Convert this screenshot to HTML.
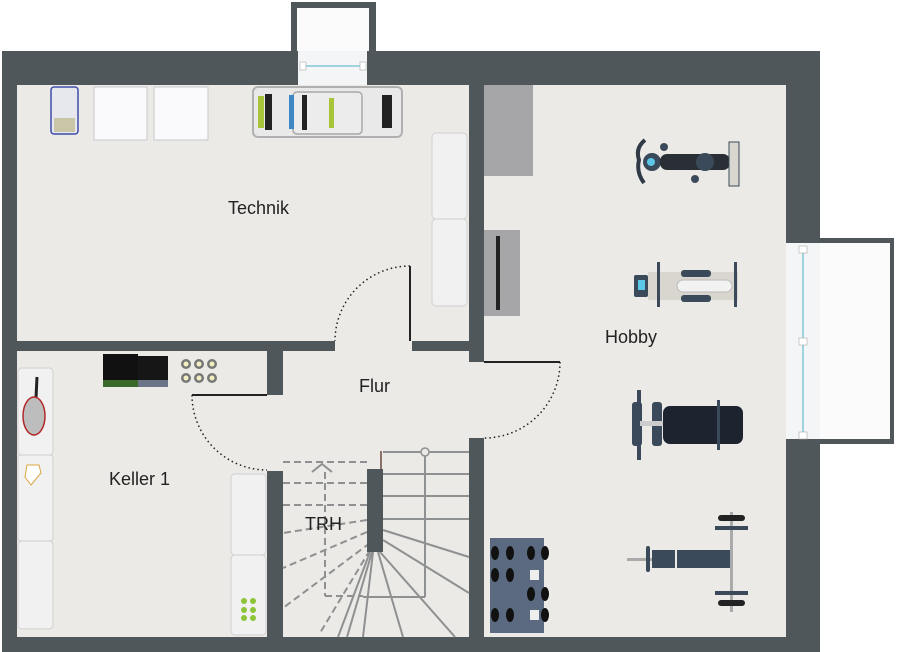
<!DOCTYPE html>
<html><head><meta charset="utf-8"><style>
html,body{margin:0;padding:0;background:#fff;}
svg{display:block;}
text{font-family:"Liberation Sans",sans-serif;fill:#222;}
</style></head><body>
<svg width="900" height="652" viewBox="0 0 900 652" xmlns="http://www.w3.org/2000/svg">
<!-- top bump -->
<rect x="291" y="2" width="85" height="52" fill="#50575a"/>
<rect x="297" y="8" width="72" height="46" fill="#fbfbfb"/>
<!-- right bump -->
<rect x="780" y="238" width="114" height="206" fill="#50575a"/>
<rect x="786" y="243" width="104" height="196" fill="#fbfbfb"/>
<!-- walls -->
<rect x="2" y="51" width="818" height="601" fill="#50575a"/>
<!-- floors -->
<g fill="#ebeae6">
<rect x="17" y="85" width="452" height="256"/>
<rect x="484" y="85" width="302" height="552"/>
<rect x="17" y="351" width="250" height="286"/>
<rect x="283" y="351" width="186" height="286"/>
<rect x="335" y="341" width="77" height="10"/>
<rect x="267" y="395" width="16" height="76"/>
<rect x="469" y="362" width="15" height="76"/>
</g>
<!-- top window -->
<rect x="298" y="51" width="69" height="34" fill="#f4f5f6"/>
<line x1="303" y1="66" x2="362" y2="66" stroke="#9fd3de" stroke-width="2"/>
<rect x="300" y="62" width="6" height="8" fill="#fff" stroke="#aaa" stroke-width="0.6"/>
<rect x="360" y="62" width="6" height="8" fill="#fff" stroke="#aaa" stroke-width="0.6"/>
<!-- right window -->
<rect x="786" y="243" width="34" height="196" fill="#f4f5f6"/>
<line x1="803" y1="248" x2="803" y2="434" stroke="#9fd3de" stroke-width="2"/>
<rect x="799" y="246" width="8" height="7" fill="#fff" stroke="#aaa" stroke-width="0.6"/>
<rect x="799" y="338" width="8" height="7" fill="#fff" stroke="#aaa" stroke-width="0.6"/>
<rect x="799" y="432" width="8" height="7" fill="#fff" stroke="#aaa" stroke-width="0.6"/>

<!-- doors -->
<g fill="none" stroke="#222">
<line x1="410" y1="266" x2="410" y2="341" stroke-width="2"/>
<path d="M410 266 A75 75 0 0 0 335 341" stroke-dasharray="1.5 3" stroke-width="1.5"/>
<line x1="192" y1="395" x2="267" y2="395" stroke-width="2"/>
<path d="M192 395 A75 75 0 0 0 267 470" stroke-dasharray="1.5 3" stroke-width="1.5"/>
<line x1="484" y1="362" x2="560" y2="362" stroke-width="2"/>
<path d="M560 362 A76 76 0 0 1 484 438" stroke-dasharray="1.5 3" stroke-width="1.5"/>
</g>

<!-- stairs -->
<g stroke="#8f9091" stroke-width="2" fill="none">
<line x1="383" y1="452" x2="469" y2="452"/>
<line x1="383" y1="474" x2="469" y2="474"/>
<line x1="383" y1="496" x2="469" y2="496"/>
<line x1="383" y1="519" x2="469" y2="519"/>
<line x1="425" y1="456" x2="425" y2="597"/>
<line x1="363" y1="597" x2="425" y2="597"/>
<line x1="383" y1="530" x2="469" y2="557"/>
<line x1="383" y1="540" x2="469" y2="593"/>
<line x1="380" y1="552" x2="455" y2="637"/>
<line x1="378" y1="552" x2="403" y2="637"/>
<line x1="373" y1="552" x2="363" y2="637"/>
<line x1="372" y1="552" x2="347" y2="637"/>
<line x1="370" y1="552" x2="338" y2="637"/>
</g>
<circle cx="425" cy="452" r="4" fill="#ebeae6" stroke="#8f9091" stroke-width="1.5"/>
<g stroke="#8f9091" stroke-width="2" fill="none" stroke-dasharray="7 4">
<line x1="283" y1="462" x2="369" y2="462"/>
<line x1="283" y1="483" x2="368" y2="483"/>
<line x1="283" y1="505" x2="368" y2="505"/>
<line x1="325" y1="472" x2="325" y2="596"/>
<line x1="325" y1="596" x2="363" y2="596"/>
<line x1="367" y1="520" x2="283" y2="533"/>
<line x1="367" y1="532" x2="283" y2="568"/>
<line x1="370" y1="543" x2="283" y2="608"/>
<line x1="370" y1="550" x2="320" y2="633"/>
</g>
<path d="M312 472 L322 464 L332 472" stroke="#8f9091" stroke-width="2" fill="none"/>
<rect x="367" y="469" width="16" height="83" fill="#50575a"/>
<line x1="381" y1="451" x2="381" y2="469" stroke="#6b4a3f" stroke-width="1.5"/>

<!-- Technik furniture -->
<rect x="51" y="87" width="27" height="47" rx="3" fill="#e6e8ee" stroke="#3f4ca8" stroke-width="1.5"/>
<rect x="54" y="118" width="21" height="14" fill="#c9c6a8"/>
<rect x="94" y="87" width="53" height="53" fill="#fafafc" stroke="#c8c8cc"/>
<rect x="154" y="87" width="54" height="53" fill="#fafafc" stroke="#c8c8cc"/>
<rect x="253" y="87" width="149" height="50" rx="5" fill="#e9e9e9" stroke="#b0b0b0" stroke-width="2"/>
<rect x="293" y="92" width="69" height="42" rx="4" fill="#ececec" stroke="#a8a8a8" stroke-width="1.5"/>
<g fill="#222"><rect x="265" y="94" width="7" height="36"/><rect x="302" y="95" width="5" height="35"/><rect x="382" y="95" width="10" height="33"/></g>
<g fill="#a8c43a"><rect x="258" y="96" width="6" height="32"/><rect x="329" y="98" width="5" height="30"/></g>
<rect x="289" y="95" width="5" height="34" fill="#3d87c4"/>
<rect x="432" y="133" width="35" height="86" rx="4" fill="#f1f1f1" stroke="#d0d0d0"/>
<rect x="432" y="219" width="35" height="87" rx="4" fill="#f1f1f1" stroke="#d0d0d0"/>

<!-- Keller furniture -->
<rect x="18" y="368" width="35" height="87" rx="4" fill="#f1f1f1" stroke="#d0d0d0"/>
<rect x="18" y="455" width="35" height="86" rx="3" fill="#f1f1f1" stroke="#d0d0d0"/>
<rect x="18" y="541" width="35" height="88" rx="4" fill="#f1f1f1" stroke="#d0d0d0"/>
<line x1="37" y1="377" x2="36" y2="398" stroke="#222" stroke-width="3"/>
<ellipse cx="34" cy="416" rx="11" ry="19" fill="#bdbdbd" stroke="#b02a2a" stroke-width="1.5"/>
<path d="M27 465 l12 0 l2 8 l-10 12 l-6 -8z" fill="#fff" stroke="#d9a640"/>
<rect x="231" y="474" width="35" height="81" rx="4" fill="#f1f1f1" stroke="#d0d0d0"/>
<rect x="231" y="555" width="35" height="80" rx="4" fill="#f1f1f1" stroke="#d0d0d0"/>
<g fill="#8cc43a"><circle cx="244" cy="601" r="3"/><circle cx="253" cy="601" r="3"/><circle cx="244" cy="610" r="3"/><circle cx="253" cy="610" r="3"/><circle cx="244" cy="618" r="3"/><circle cx="253" cy="618" r="3"/></g>
<rect x="103" y="354" width="35" height="33" fill="#111"/>
<rect x="103" y="380" width="35" height="7" fill="#3a6a2a"/>
<rect x="138" y="356" width="30" height="31" fill="#161616"/>
<rect x="138" y="380" width="30" height="7" fill="#6a7388"/>
<g fill="#777"><circle cx="186" cy="364" r="5"/><circle cx="199" cy="364" r="5"/><circle cx="212" cy="364" r="5"/><circle cx="186" cy="378" r="5"/><circle cx="199" cy="378" r="5"/><circle cx="212" cy="378" r="5"/></g>
<g fill="#f2f0c0"><circle cx="186" cy="364" r="2.5"/><circle cx="199" cy="364" r="2.5"/><circle cx="212" cy="364" r="2.5"/><circle cx="186" cy="378" r="2.5"/><circle cx="199" cy="378" r="2.5"/><circle cx="212" cy="378" r="2.5"/></g>

<!-- Hobby furniture -->
<rect x="484" y="85" width="49" height="91" fill="#a6a6a8"/>
<rect x="484" y="230" width="36" height="86" fill="#a6a6a8"/>
<rect x="496" y="236" width="4" height="74" fill="#222"/>
<!-- bike -->
<path d="M645 140 q-10 8 -6 20 q-3 12 5 23" stroke="#2f3a46" stroke-width="4" fill="none"/>
<circle cx="652" cy="162" r="9" fill="#3a4a5a"/>
<circle cx="651" cy="162" r="4" fill="#5cc8e8"/>
<rect x="660" y="154" width="70" height="16" rx="7" fill="#2a2f35"/>
<ellipse cx="705" cy="162" rx="9" ry="9" fill="#3a4a5a"/>
<rect x="729" y="142" width="10" height="44" fill="#d8d6cf" stroke="#3a4a5a"/>
<circle cx="664" cy="147" r="4" fill="#3a4a5a"/><circle cx="695" cy="179" r="4" fill="#3a4a5a"/>
<!-- elliptical -->
<rect x="634" y="275" width="14" height="22" rx="2" fill="#3a4a5a"/>
<rect x="638" y="280" width="7" height="10" fill="#5cc8e8"/>
<rect x="648" y="272" width="90" height="28" fill="#d8d6cf"/>
<rect x="681" y="270" width="30" height="7" rx="3" fill="#3a4a5a"/>
<rect x="681" y="295" width="30" height="7" rx="3" fill="#3a4a5a"/>
<rect x="677" y="280" width="55" height="12" rx="6" fill="#f2f2f2" stroke="#bbb"/>
<rect x="657" y="262" width="3" height="45" fill="#3a4a5a"/><rect x="734" y="262" width="3" height="45" fill="#3a4a5a"/>
<!-- bench -->
<rect x="637" y="390" width="4" height="70" fill="#3a4a5a"/>
<rect x="632" y="402" width="10" height="44" rx="3" fill="#3a4a5a"/>
<rect x="652" y="402" width="10" height="44" rx="3" fill="#3a4a5a"/>
<rect x="640" y="421" width="25" height="5" fill="#ccc"/>
<rect x="663" y="406" width="80" height="38" rx="7" fill="#1d2430"/>
<rect x="717" y="400" width="3" height="50" fill="#3a4a5a"/>
<!-- bench press -->
<rect x="652" y="550" width="23" height="18" fill="#3a4a5a"/>
<rect x="677" y="550" width="55" height="18" fill="#3a4a5a"/>
<rect x="627" y="558" width="25" height="3" fill="#aaa"/>
<rect x="646" y="546" width="4" height="26" rx="2" fill="#3a4a5a"/>
<rect x="730" y="512" width="3" height="100" fill="#aaa"/>
<rect x="718" y="515" width="27" height="6" rx="3" fill="#222"/>
<rect x="715" y="526" width="33" height="4" fill="#3a4a5a"/>
<rect x="715" y="591" width="33" height="4" fill="#3a4a5a"/>
<rect x="718" y="600" width="27" height="6" rx="3" fill="#222"/>
<!-- dumbbell rack -->
<rect x="490" y="538" width="54" height="95" fill="#5b6a80"/>
<g fill="#111">
<ellipse cx="495" cy="553" rx="4" ry="7"/><ellipse cx="510" cy="553" rx="4" ry="7"/><ellipse cx="531" cy="553" rx="4" ry="7"/><ellipse cx="545" cy="553" rx="4" ry="7"/>
<ellipse cx="495" cy="575" rx="4" ry="7"/><ellipse cx="510" cy="575" rx="4" ry="7"/>
<ellipse cx="531" cy="594" rx="4" ry="7"/><ellipse cx="545" cy="594" rx="4" ry="7"/>
<ellipse cx="495" cy="615" rx="4" ry="7"/><ellipse cx="510" cy="615" rx="4" ry="7"/><ellipse cx="545" cy="615" rx="4" ry="7"/>
</g>
<rect x="530" y="570" width="9" height="10" fill="#eee"/>
<rect x="530" y="610" width="9" height="10" fill="#eee"/>

<!-- labels -->
<text x="228" y="214" font-size="18">Technik</text>
<text x="359" y="392" font-size="18">Flur</text>
<text x="109" y="485" font-size="18">Keller 1</text>
<text x="305" y="530" font-size="18">TRH</text>
<text x="605" y="343" font-size="18">Hobby</text>
</svg>
</body></html>
